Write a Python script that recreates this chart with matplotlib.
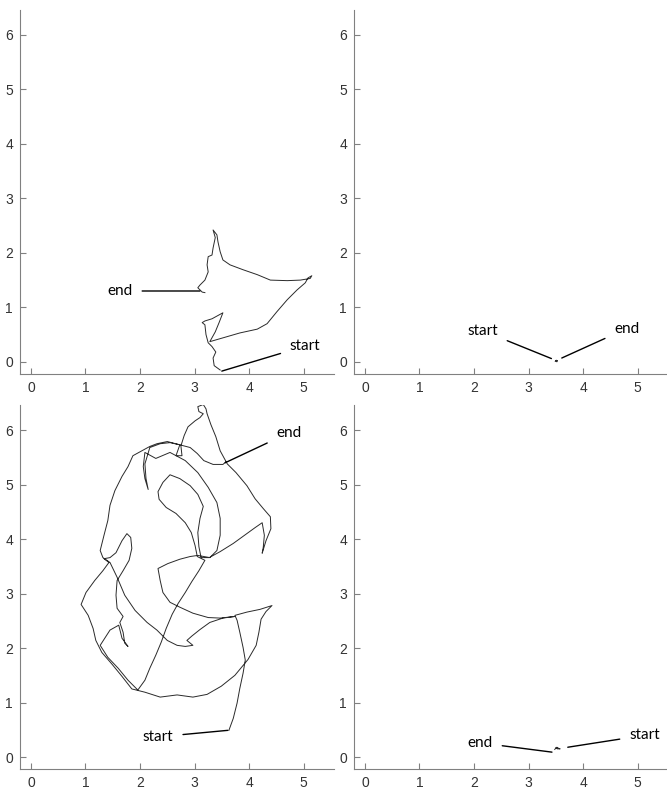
import matplotlib
matplotlib.use("Agg")
import matplotlib.pyplot as plt

# trajectories, in arena units
tl_x = [3.47, 3.36, 3.34, 3.39, 3.32, 3.25, 3.21, 3.19, 3.14, 3.19, 3.32, 3.52, 3.45, 3.38, 3.28,
        3.52, 3.83, 4.15, 4.33, 4.51, 4.70, 4.88, 5.03, 5.08, 5.15, 5.12,
        4.94, 4.70, 4.39, 4.15, 3.89, 3.65, 3.52, 3.47, 3.43, 3.41, 3.34,
        3.38, 3.34, 3.32, 3.25, 3.23, 3.25, 3.19, 3.10, 3.06, 3.14, 3.19]
tl_y = [-0.15, -0.07, 0.07, 0.18, 0.28, 0.35, 0.50, 0.68, 0.72, 0.75, 0.79, 0.90, 0.72, 0.55, 0.37,
        0.44, 0.53, 0.60, 0.70, 0.92, 1.14, 1.32, 1.45, 1.54, 1.58, 1.53,
        1.50, 1.49, 1.50, 1.60, 1.69, 1.78, 1.87, 2.02, 2.20, 2.33, 2.42,
        2.28, 2.09, 1.96, 1.93, 1.78, 1.65, 1.50, 1.41, 1.36, 1.28, 1.27]

tr_x = [3.49, 3.51, 3.53, 3.52, 3.50, 3.52]
tr_y = [0.01, 0.03, 0.02, 0.00, 0.02, 0.02]

bl_x = [3.63, 3.71, 3.78, 3.83, 3.89, 3.93, 3.89, 3.83, 3.78, 3.74,
        3.96, 4.20, 4.42, 4.31, 4.22, 4.18, 4.13, 3.98, 3.74, 3.49, 3.23, 2.97, 2.68, 2.37, 2.09, 1.85,
        1.67, 1.49, 1.30, 1.19, 1.14, 1.05, 0.92, 1.01, 1.17, 1.32, 1.43, 1.34, 1.45, 1.56, 1.67, 1.76,
        1.83, 1.85, 1.80, 1.69, 1.58, 1.56, 1.58, 1.69, 1.63, 1.69, 1.72, 1.78,
        1.67, 1.61, 1.45, 1.27, 1.41, 1.60, 1.78, 1.96,
        2.09, 2.18, 2.29, 2.39, 2.48, 2.59, 2.70, 2.83, 2.95, 3.08, 3.19,
        3.05, 3.01, 2.94, 2.83, 2.66, 2.48, 2.35, 2.33, 2.42, 2.55, 2.73, 2.92, 3.06, 3.16, 3.10, 3.06,
        3.08, 3.12, 3.27,
        3.47, 3.71, 3.93, 4.11, 4.24, 4.28, 4.26, 4.24,
        4.31, 4.40, 4.39, 4.26, 4.11, 3.96, 3.76, 3.60, 3.47, 3.39, 3.30, 3.23,
        3.21, 3.16, 3.06, 3.08, 3.16, 3.10, 3.01, 2.88, 2.81, 2.75,
        2.77, 2.66, 2.73, 2.50, 2.31, 2.18, 2.00, 1.87, 1.78, 1.67, 1.54, 1.45, 1.41, 1.34, 1.27, 1.32,
        1.45, 1.58, 1.72, 1.91, 2.13, 2.31, 2.50, 2.68, 2.83, 2.97, 2.86, 2.95, 3.10, 3.28, 3.52, 3.74,
        3.47, 3.25, 2.97, 2.73, 2.55, 2.42, 2.37, 2.33, 2.51, 2.73, 2.92, 3.06,
        3.28, 3.41, 3.47, 3.47, 3.41, 3.25, 3.06, 2.83, 2.55, 2.29, 2.09, 2.06, 2.09, 2.15, 2.11, 2.09,
        2.18, 2.37, 2.55, 2.73, 2.92, 3.05, 3.17, 3.34, 3.52, 3.58]
bl_y = [0.49, 0.71, 0.99, 1.26, 1.54, 1.78, 2.01, 2.29, 2.51, 2.60,
        2.66, 2.71, 2.78, 2.67, 2.53, 2.29, 2.05, 1.79, 1.50, 1.30, 1.15, 1.10, 1.14, 1.10, 1.19, 1.25,
        1.48, 1.70, 1.92, 2.14, 2.36, 2.60, 2.80, 3.02, 3.24, 3.42, 3.57, 3.64, 3.66, 3.75, 3.97, 4.10,
        4.03, 3.83, 3.61, 3.42, 3.24, 2.97, 2.73, 2.58, 2.47, 2.29, 2.09, 2.03,
        2.18, 2.42, 2.33, 2.05, 1.83, 1.63, 1.41, 1.23,
        1.41, 1.63, 1.87, 2.11, 2.36, 2.62, 2.82, 3.02, 3.22, 3.42, 3.61,
        3.68, 3.88, 4.12, 4.30, 4.47, 4.58, 4.73, 4.87, 5.04, 5.18, 5.11, 4.98, 4.82, 4.60, 4.38, 4.12,
        3.86, 3.66, 3.66,
        3.77, 3.92, 4.08, 4.21, 4.30, 4.07, 3.85, 3.74,
        3.97, 4.19, 4.41, 4.56, 4.74, 4.98, 5.22, 5.38, 5.62, 5.88, 6.10, 6.30,
        6.39, 6.47, 6.43, 6.34, 6.30, 6.23, 6.17, 6.06, 5.90, 5.71,
        5.53, 5.53, 5.73, 5.79, 5.75, 5.70, 5.60, 5.53, 5.33, 5.15, 4.89, 4.62, 4.34, 4.07, 3.79, 3.66,
        3.57, 3.30, 2.97, 2.69, 2.47, 2.33, 2.14, 2.05, 2.03, 2.05, 2.14, 2.22, 2.34, 2.47, 2.55, 2.58,
        2.55, 2.56, 2.64, 2.75, 2.84, 3.02, 3.24, 3.46, 3.55, 3.63, 3.68, 3.70,
        3.66, 3.79, 4.07, 4.38, 4.67, 4.95, 5.22, 5.44, 5.59, 5.48, 5.59, 5.33, 5.11, 4.91, 5.11, 5.38,
        5.68, 5.75, 5.77, 5.73, 5.68, 5.57, 5.44, 5.37, 5.37, 5.42]

br_x = [3.48, 3.52, 3.55, 3.58, 3.53, 3.50, 3.54]
br_y = [0.14, 0.18, 0.16, 0.15, 0.15, 0.17, 0.16]

# labels: (text, text x, text y, point x, point y)
tl_notes = [("end", 1.63, 1.30, 3.10, 1.30), ("start", 5.03, 0.29, 3.50, -0.17)]
tr_notes = [("start", 2.16, 0.57, 3.42, 0.06), ("end", 4.80, 0.61, 3.61, 0.07)]
bl_notes = [("end", 4.73, 5.95, 3.56, 5.40), ("start", 2.33, 0.37, 3.61, 0.49)]
br_notes = [("end", 2.11, 0.26, 3.43, 0.09), ("start", 5.13, 0.40, 3.72, 0.18)]

xticks = [0, 1, 2, 3, 4, 5]
yticks = [0, 1, 2, 3, 4, 5, 6]

fig = plt.figure(figsize=(6.67, 7.92), dpi=100)
positions = [[0.030, 0.528, 0.471, 0.4596], [0.5307, 0.528, 0.471, 0.4596],
             [0.030, 0.029, 0.471, 0.4596], [0.5307, 0.029, 0.471, 0.4596]]
panels = [(tl_x, tl_y, tl_notes), (tr_x, tr_y, tr_notes),
          (bl_x, bl_y, bl_notes), (br_x, br_y, br_notes)]

axcol = "#808080"
for pos, (xs, ys, notes) in zip(positions, panels):
    ax = fig.add_axes(pos)
    ax.plot(xs, ys, color="#2a2a2a", lw=0.7)
    ax.set_xlim(-0.2, 5.56)
    ax.set_ylim(-0.22, 6.46)
    ax.set_xticks(xticks)
    ax.set_yticks(yticks)
    for s in ["top", "right"]:
        ax.spines[s].set_visible(False)
    for s in ["left", "bottom"]:
        ax.spines[s].set_color(axcol)
        ax.spines[s].set_linewidth(0.8)
    ax.tick_params(direction="in", length=4, width=0.8, color=axcol,
                   labelcolor="#333333", labelsize=10, pad=5)
    for lab in ax.get_xticklabels() + ax.get_yticklabels():
        lab.set_family("Liberation Sans")
    for txt, tx, ty, px, py in notes:
        ax.annotate(txt, xy=(px, py), xytext=(tx, ty), ha="center", va="center",
                    fontsize=11, family="Lato", color="black", annotation_clip=False,
                    arrowprops=dict(arrowstyle="-", color="black", lw=1.0,
                                    shrinkA=5, shrinkB=0))

fig.savefig("out.png", dpi=100)
